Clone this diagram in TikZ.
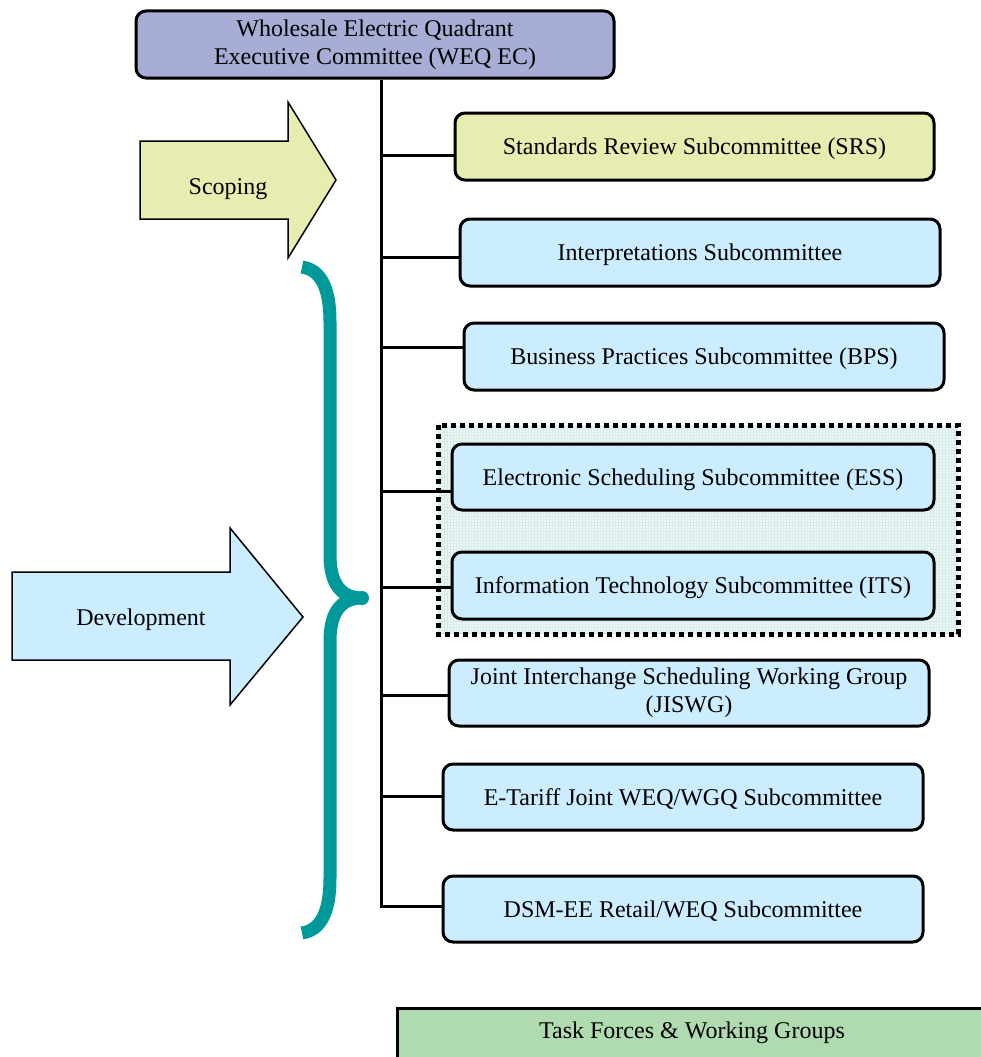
\documentclass[tikz,border=0pt]{standalone}
\usepackage{fontspec}
\setmainfont{Liberation Serif}
\definecolor{lav}{HTML}{A7ADD5}
\definecolor{yel}{HTML}{E7ECB0}
\definecolor{lblue}{HTML}{CCECFF}
\definecolor{lgreen}{HTML}{B0DAB0}
\definecolor{teal2}{HTML}{009999}
\definecolor{gridfill}{HTML}{EEF7F6}
\definecolor{gridline}{HTML}{D6ECEA}
\tikzset{
  box/.style={draw=black, line width=3pt, rounded corners=10pt, minimum width=480pt, minimum height=67pt, align=center, inner sep=0pt, font=\fontsize{24}{28}\selectfont},
  oneline/.style={text height=20pt, text depth=4pt},
  bluebox/.style={box, fill=lblue},
  branch/.style={draw=black, line width=3pt},
  bigarrow/.style={draw=black, line width=1.5pt, line join=miter},
  lbl/.style={font=\fontsize{24}{28}\selectfont, inner sep=0pt},
}
\begin{document}
\begin{tikzpicture}[x=1pt,y=-1pt]
\useasboundingbox (0,0) rectangle (981,1057);
\clip (0,0) rectangle (981,1057);
% dotted group background
\fill[gridfill] (438,425) rectangle (958,634);
\draw[gridline, line width=0.4pt, step=3pt] (438,425) grid (958,634);
\draw[line width=5pt, dash pattern=on 5pt off 4pt] (438,425) rectangle (958,634);
% top node
\node[box, fill=lav, minimum width=478pt] (weq) at (375,44.5) {Wholesale Electric Quadrant\\Executive Committee (WEQ EC)};
% subcommittees
\node[box, oneline, fill=yel, minimum width=479pt] (srs) at (694.5,146.5) {Standards Review Subcommittee (SRS)};
\node[bluebox, oneline] (int) at (700,252.5) {Interpretations Subcommittee};
\node[bluebox, oneline] (bps) at (704,356.5) {Business Practices Subcommittee (BPS)};
\node[bluebox, oneline, minimum width=482pt, minimum height=66pt] (ess) at (693,477) {Electronic Scheduling Subcommittee (ESS)};
\node[bluebox, oneline, minimum width=482pt] (its) at (693,585.5) {Information Technology Subcommittee (ITS)};
\node[bluebox, minimum height=66pt] (jis) at (689,693) {Joint Interchange Scheduling Working Group\\(JISWG)};
\node[bluebox, oneline, minimum height=66pt] (etar) at (683,797) {E-Tariff Joint WEQ/WGQ Subcommittee};
\node[bluebox, oneline, minimum height=66pt] (dsm) at (683,909) {DSM-EE Retail/WEQ Subcommittee};
% task forces
\node[draw=black, line width=3pt, fill=lgreen, minimum width=592pt, minimum height=64pt, anchor=north west, inner sep=0pt] (tf) at (396,1007) {};
\node[lbl] (tft) at (692,1033) {Task Forces \& Working Groups};
% trunk and branches
\coordinate (tbot) at (381,906);
\draw[branch] (weq.south -| tbot) -- (tbot) -- (tbot -| dsm.west);
\coordinate (b1) at (381,155);
\coordinate (b2) at (381,257);
\coordinate (b3) at (381,347);
\coordinate (b4) at (381,491);
\coordinate (b5) at (381,587);
\coordinate (b6) at (381,695);
\coordinate (b7) at (381,796);
\draw[branch] (b1) -- (b1 -| srs.west);
\draw[branch] (b2) -- (b2 -| int.west);
\draw[branch] (b3) -- (b3 -| bps.west);
\draw[branch] (b4) -- (b4 -| ess.west);
\draw[branch] (b5) -- (b5 -| its.west);
\draw[branch] (b6) -- (b6 -| jis.west);
\draw[branch] (b7) -- (b7 -| etar.west);
% scoping arrow
\draw[bigarrow, fill=yel] (140,141) -- (288,141) -- (288,102) -- (336,180) -- (288,258) -- (288,219) -- (140,219) -- cycle;
\node[lbl] (scop) at (228,189) {Scoping};
% development arrow
\draw[bigarrow, fill=lblue] (12,572) -- (230,572) -- (230,528) -- (303,617) -- (230,705) -- (230,660) -- (12,660) -- cycle;
\node[lbl] (dev) at (141,620) {Development};
% brace
\draw[teal2, line width=13pt, line cap=butt, line join=round]
  (302,267) .. controls (322,270) and (330,290) .. (330,322) -- (330,555)
  .. controls (330,585) and (342,598) .. (362,598)
  .. controls (342,598) and (330,611) .. (330,641) -- (330,878)
  .. controls (330,910) and (322,930) .. (302,933);
\fill[teal2] (362,598) circle (7pt);
\end{tikzpicture}
\end{document}
